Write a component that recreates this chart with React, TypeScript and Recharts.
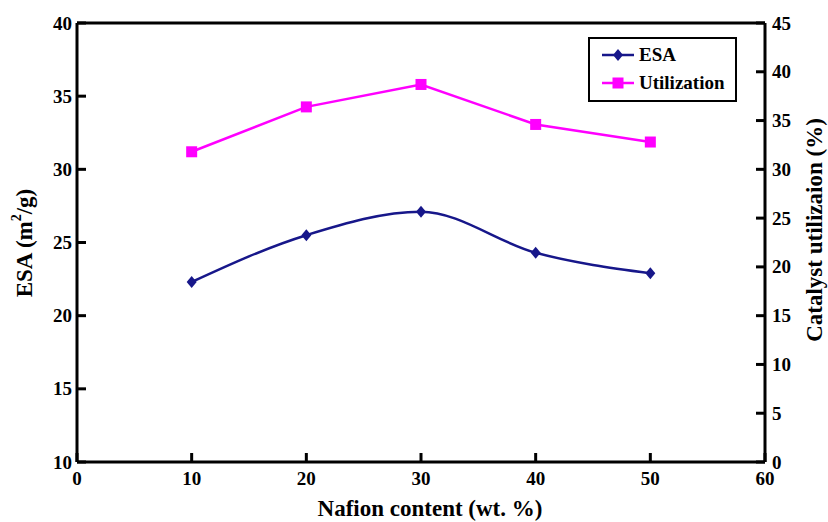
import React from 'react';
import { LineChart, Line, XAxis, YAxis, ReferenceLine, Legend } from 'recharts';

// values
const nafionContent = [10, 20, 30, 40, 50];
const esaValues = [22.3, 25.5, 27.1, 24.3, 22.9];
const utilizationValues = [31.8, 36.4, 38.7, 34.6, 32.8];

const xTicks = [0, 10, 20, 30, 40, 50, 60];
const esaTicks = [10, 15, 20, 25, 30, 35, 40];
const utilTicks = [0, 5, 10, 15, 20, 25, 30, 35, 40, 45];

const chartData = nafionContent.map((n, i) => ({
  nafion: n,
  esa: esaValues[i],
  utilization: utilizationValues[i],
}));

const NAVY = '#17178a';
const PINK = '#ff00ff';
const FONT = '"Liberation Serif", "Times New Roman", serif';
const TICK_FONT = 19;
const TICK_LEN = 9;
const axisLineStyle = { stroke: '#000', strokeWidth: 3 };

// ticks point inward, labels sit outside
const LeftTick = (props: any) => {
  const { x, y, payload } = props;
  return (
    <g>
      <line x1={x + 5} y1={y} x2={x + 5 + TICK_LEN} y2={y} stroke="#000" strokeWidth={3} />
      <text x={x} y={y} textAnchor="end" dominantBaseline="central" fontFamily={FONT}
        fontWeight="bold" fontSize={TICK_FONT} fill="#000">{payload.value}</text>
    </g>
  );
};

const RightTick = (props: any) => {
  const { x, y, payload } = props;
  return (
    <g>
      <line x1={x - 7} y1={y} x2={x - 7 - TICK_LEN} y2={y} stroke="#000" strokeWidth={3} />
      <text x={x} y={y} textAnchor="start" dominantBaseline="central" fontFamily={FONT}
        fontWeight="bold" fontSize={TICK_FONT} fill="#000">{payload.value}</text>
    </g>
  );
};

const BottomTick = (props: any) => {
  const { x, y, payload } = props;
  return (
    <g>
      <line x1={x} y1={y - 9} x2={x} y2={y - 9 - TICK_LEN} stroke="#000" strokeWidth={3} />
      <text x={x} y={y + 7} textAnchor="middle" dominantBaseline="central" fontFamily={FONT}
        fontWeight="bold" fontSize={TICK_FONT} fill="#000">{payload.value}</text>
    </g>
  );
};

// marker for ESA
const Diamond = (props: any) => {
  const { cx, cy } = props;
  if (cx == null || cy == null) return null;
  return <path d={`M${cx},${cy - 6}L${cx + 5},${cy}L${cx},${cy + 6}L${cx - 5},${cy}Z`} fill={NAVY} />;
};

// marker for utilization
const Square = (props: any) => {
  const { cx, cy } = props;
  if (cx == null || cy == null) return null;
  return <rect x={cx - 5.5} y={cy - 5.5} width={11} height={11} fill={PINK} />;
};

const XTitle = () => (
  <text x={430} y={508} textAnchor="middle" dominantBaseline="central"
    fontFamily={FONT} fontWeight="bold" fontSize={23} fill="#000">
    Nafion content (wt. %)
  </text>
);

const LeftTitle = () => (
  <text x={24} y={243} transform="rotate(-90, 24, 243)" textAnchor="middle" dominantBaseline="central"
    fontFamily={FONT} fontWeight="bold" fontSize={23} fill="#000">
    <tspan>ESA (m</tspan>
    <tspan dy={-8} fontSize={14}>2</tspan>
    <tspan dy={8}>/g)</tspan>
  </text>
);

const RightTitle = () => (
  <text x={814} y={230} transform="rotate(-90, 814, 230)" textAnchor="middle" dominantBaseline="central"
    fontFamily={FONT} fontWeight="bold" fontSize={23} fill="#000">
    Catalyst utilizaion (%)
  </text>
);

const LegendBox = () => {
  const rows = [
    { name: 'ESA', color: NAVY, marker: 'diamond' },
    { name: 'Utilization', color: PINK, marker: 'square' },
  ];
  return (
    <div style={{
      position: 'relative', width: 149, height: 65, boxSizing: 'border-box',
      border: '2px solid #000', background: '#fff',
      fontFamily: FONT, fontWeight: 'bold', fontSize: 19, color: '#000',
    }}>
      {rows.map((r, i) => (
        <div key={r.name} style={{ position: 'absolute', left: 12, top: 7 + i * 28, height: 18, display: 'flex', alignItems: 'center' }}>
          <svg width={32} height={14} style={{ display: 'block' }}>
            <line x1={0} y1={7} x2={32} y2={7} stroke={r.color} strokeWidth={2.5} />
            {r.marker === 'diamond'
              ? <path d="M16,1L21,7L16,13L11,7Z" fill={r.color} />
              : <rect x={10.5} y={1.5} width={11} height={11} fill={r.color} />}
          </svg>
          <span style={{ marginLeft: 5, lineHeight: '18px' }}>{r.name}</span>
        </div>
      ))}
    </div>
  );
};

export default function App() {
  return (
    <div style={{ position: 'absolute', left: 0, top: 0, width: 828, height: 522, background: '#fff' }}>
      <LineChart width={828} height={522} data={chartData}
        margin={{ top: 23, right: 0, bottom: 0, left: 0 }}>
        <XAxis dataKey="nafion" type="number" domain={[0, 60]} ticks={xTicks} interval={0}
          height={60} axisLine={axisLineStyle} tickLine={false}
          tickSize={0} tickMargin={9} tick={<BottomTick />} label={<XTitle />} />
        <YAxis yAxisId="left" orientation="left" type="number" domain={[10, 40]} ticks={esaTicks}
          interval={0} width={77} axisLine={axisLineStyle} tickLine={false}
          tickSize={0} tickMargin={5} tick={<LeftTick />} label={<LeftTitle />} />
        <YAxis yAxisId="right" orientation="right" type="number" domain={[0, 45]} ticks={utilTicks}
          interval={0} width={63} axisLine={axisLineStyle} tickLine={false}
          tickSize={0} tickMargin={7} tick={<RightTick />} label={<RightTitle />} />
        <ReferenceLine yAxisId="left" y={40} stroke="#000" strokeWidth={3} />
        <Legend verticalAlign="middle" align="center" layout="horizontal"
          wrapperStyle={{ left: 588, top: 37, width: 149, height: 65 }}
          content={<LegendBox />} />
        <Line yAxisId="left" type="monotone" dataKey="esa" name="ESA" stroke={NAVY} strokeWidth={2.5}
          dot={<Diamond />} activeDot={false} isAnimationActive={false} />
        <Line yAxisId="right" type="linear" dataKey="utilization" name="Utilization" stroke={PINK} strokeWidth={2.5}
          dot={<Square />} activeDot={false} isAnimationActive={false} />
      </LineChart>
    </div>
  );
}
